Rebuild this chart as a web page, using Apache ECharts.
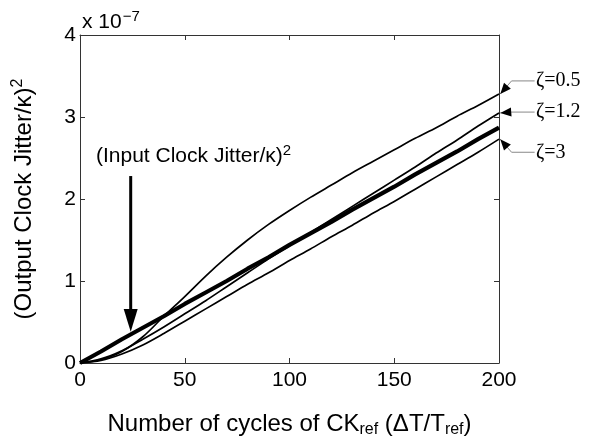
<!DOCTYPE html>
<html><head><meta charset="utf-8">
<script src="https://cdn.jsdelivr.net/npm/echarts@6/dist/echarts.min.js"></script>
<style>html,body{margin:0;padding:0;background:#fff}#c{width:592px;height:443px}</style>
</head><body><div id="c"></div>
<script>
// x: number of cycles; y values in units of 1e-7
const cycles = [0,10,20,30,40,50,60,70,80,90,100,110,120,130,140,150,160,170,180,190,200];
const inputJitter = [0,0.14,0.29,0.43,0.57,0.72,0.86,1.00,1.15,1.29,1.44,1.58,1.72,1.87,2.01,2.15,2.30,2.44,2.58,2.73,2.87];
const zeta05 = [0,0.04,0.14,0.32,0.57,0.81,1.06,1.29,1.50,1.69,1.86,2.02,2.17,2.32,2.46,2.60,2.74,2.87,3.01,3.14,3.28];
const zeta12 = [0,0.05,0.15,0.29,0.44,0.60,0.76,0.93,1.10,1.27,1.43,1.59,1.75,1.91,2.07,2.23,2.39,2.56,2.72,2.89,3.05];
const zeta3  = [0,0.03,0.11,0.22,0.36,0.51,0.66,0.81,0.96,1.10,1.25,1.39,1.54,1.68,1.83,1.97,2.12,2.27,2.42,2.57,2.73];
const xTicks = [0,50,100,150,200];
const yTicks = [0,1,2,3,4];
const zetaNames = ['ζ=0.5','ζ=1.2','ζ=3'];
const zetaSeries = [zeta05, zeta12, zeta3];
const zetaLabelY = [3.44, 3.06, 2.57];
const inputLabel = '(Input Clock Jitter/κ)';
const inputArrowX = 24.2;

const chart = echarts.init(document.getElementById('c'));
const sans = 'Liberation Sans, Arial, Helvetica, sans-serif';
const serif = 'Liberation Serif, Times New Roman, serif';
const axisCol = '#333';

function pair(xs, ys){ return xs.map((x,i)=>[x, ys[i]]); }

const baseAxis = {
  axisLine:{show:true, onZero:false, lineStyle:{color:axisCol, width:1}},
  axisTick:{show:true, inside:true, length:5, lineStyle:{color:axisCol}},
  splitLine:{show:false}
};

const option = {
  animation:false,
  backgroundColor:'#fff',
  grid:{left:80, right:93, top:35, bottom:79, containLabel:false},
  xAxis:[
    Object.assign({}, baseAxis, {type:'value', min:xTicks[0], max:xTicks[xTicks.length-1], interval:50, position:'bottom',
      axisLabel:{show:true, margin:7, fontSize:21, color:'#000', fontFamily:sans},
      name:'Number of cycles of CK{sub|ref} (ΔT/T{sub|ref})', nameLocation:'middle', nameGap:47,
      nameTextStyle:{fontSize:24, fontFamily:sans, color:'#000', lineHeight:28,
        rich:{sub:{fontSize:16, fontFamily:sans, color:'#000', lineHeight:16, padding:[12,0,0,0]}}}
    }),
    Object.assign({}, baseAxis, {type:'value', min:xTicks[0], max:xTicks[xTicks.length-1], interval:50, position:'top', axisLabel:{show:false}})
  ],
  yAxis:[
    Object.assign({}, baseAxis, {type:'value', min:yTicks[0], max:yTicks[yTicks.length-1], interval:1, position:'left',
      axisLabel:{show:true, margin:4, fontSize:21, color:'#000', fontFamily:sans},
      name:'(Output Clock Jitter/κ){sup|2}', nameLocation:'middle', nameGap:42,
      nameTextStyle:{fontSize:24, fontFamily:sans, color:'#000', lineHeight:28,
        rich:{sup:{fontSize:16, fontFamily:sans, color:'#000', lineHeight:16, padding:[0,0,12,0]}}}
    }),
    Object.assign({}, baseAxis, {type:'value', min:yTicks[0], max:yTicks[yTicks.length-1], interval:1, position:'right', axisLabel:{show:false}})
  ],
  series:[
    {type:'line', name:'input', data:pair(cycles, inputJitter), showSymbol:false, smooth:false, lineStyle:{color:'#000', width:4.2}, z:3},
    {type:'line', name:zetaNames[0], data:pair(cycles, zeta05), showSymbol:false, smooth:0.3, lineStyle:{color:'#000', width:1.7}, z:4},
    {type:'line', name:zetaNames[1], data:pair(cycles, zeta12), showSymbol:false, smooth:0.3, lineStyle:{color:'#000', width:1.7}, z:4},
    {type:'line', name:zetaNames[2], data:pair(cycles, zeta3), showSymbol:false, smooth:0.3, lineStyle:{color:'#000', width:1.7}, z:4}
  ]
};
chart.setOption(option);

const P = (x,y)=>chart.convertToPixel({gridIndex:0},[x,y]);
const g = [];

function arrowHead(tip, from, len, half){
  const dx = tip[0]-from[0], dy = tip[1]-from[1];
  const d = Math.hypot(dx,dy) || 1;
  const ux = dx/d, uy = dy/d;
  const bx = tip[0]-ux*len, by = tip[1]-uy*len;
  return [[tip[0],tip[1]],[bx - uy*half, by + ux*half],[bx + uy*half, by - ux*half]];
}

// zeta annotations
zetaNames.forEach((nm,i)=>{
  const vals = zetaSeries[i];
  const endV = vals[vals.length-1];
  const tip = P(200.6, endV);
  const start = P(217, zetaLabelY[i]);
  const knee = P(206, zetaLabelY[i]);
  g.push({type:'polyline', shape:{points:[start, knee, tip]}, style:{stroke:'#888', lineWidth:1, fill:null}, z:10});
  g.push({type:'polygon', shape:{points:arrowHead(tip, knee, 11, 4.5)}, style:{fill:'#000'}, z:11});
  const tp = P(217.2, zetaLabelY[i]);
  g.push({type:'text', x:tp[0]+1, y:tp[1], style:{text:nm, font:'20px '+serif, fill:'#000', align:'left', verticalAlign:'middle'}, z:12});
});

// input clock jitter arrow
const aTop = P(inputArrowX, 2.28);
const aTip = P(inputArrowX, 0.38);
const aBase = P(inputArrowX, 0.66);
g.push({type:'line', shape:{x1:aTop[0], y1:aTop[1], x2:aBase[0], y2:aBase[1]+2}, style:{stroke:'#000', lineWidth:3}, z:10});
g.push({type:'polygon', shape:{points:[[aTip[0],aTip[1]],[aBase[0]-7,aBase[1]],[aBase[0]+7,aBase[1]]]}, style:{fill:'#000'}, z:11});
const tl = P(0, 2.52);
g.push({type:'text', x:tl[0]+16, y:tl[1], style:{text:'{a|'+inputLabel+'}{s|2}', verticalAlign:'middle', align:'left',
  rich:{a:{font:'21px '+sans, fill:'#000', lineHeight:26}, s:{font:'15px '+sans, fill:'#000', lineHeight:15, padding:[0,0,11,0]}}}, z:12});

// exponent label
const corner = P(0, 4);
g.push({type:'text', x:corner[0]+2, y:corner[1]-1, style:{text:'{a|x 10}{s|−7}', verticalAlign:'bottom', align:'left',
  rich:{a:{font:'21px '+sans, fill:'#000', lineHeight:24}, s:{font:'15px '+sans, fill:'#000', lineHeight:15, padding:[0,0,11,1]}}}, z:12});

chart.setOption({graphic:{elements:g}});
</script></body></html>
